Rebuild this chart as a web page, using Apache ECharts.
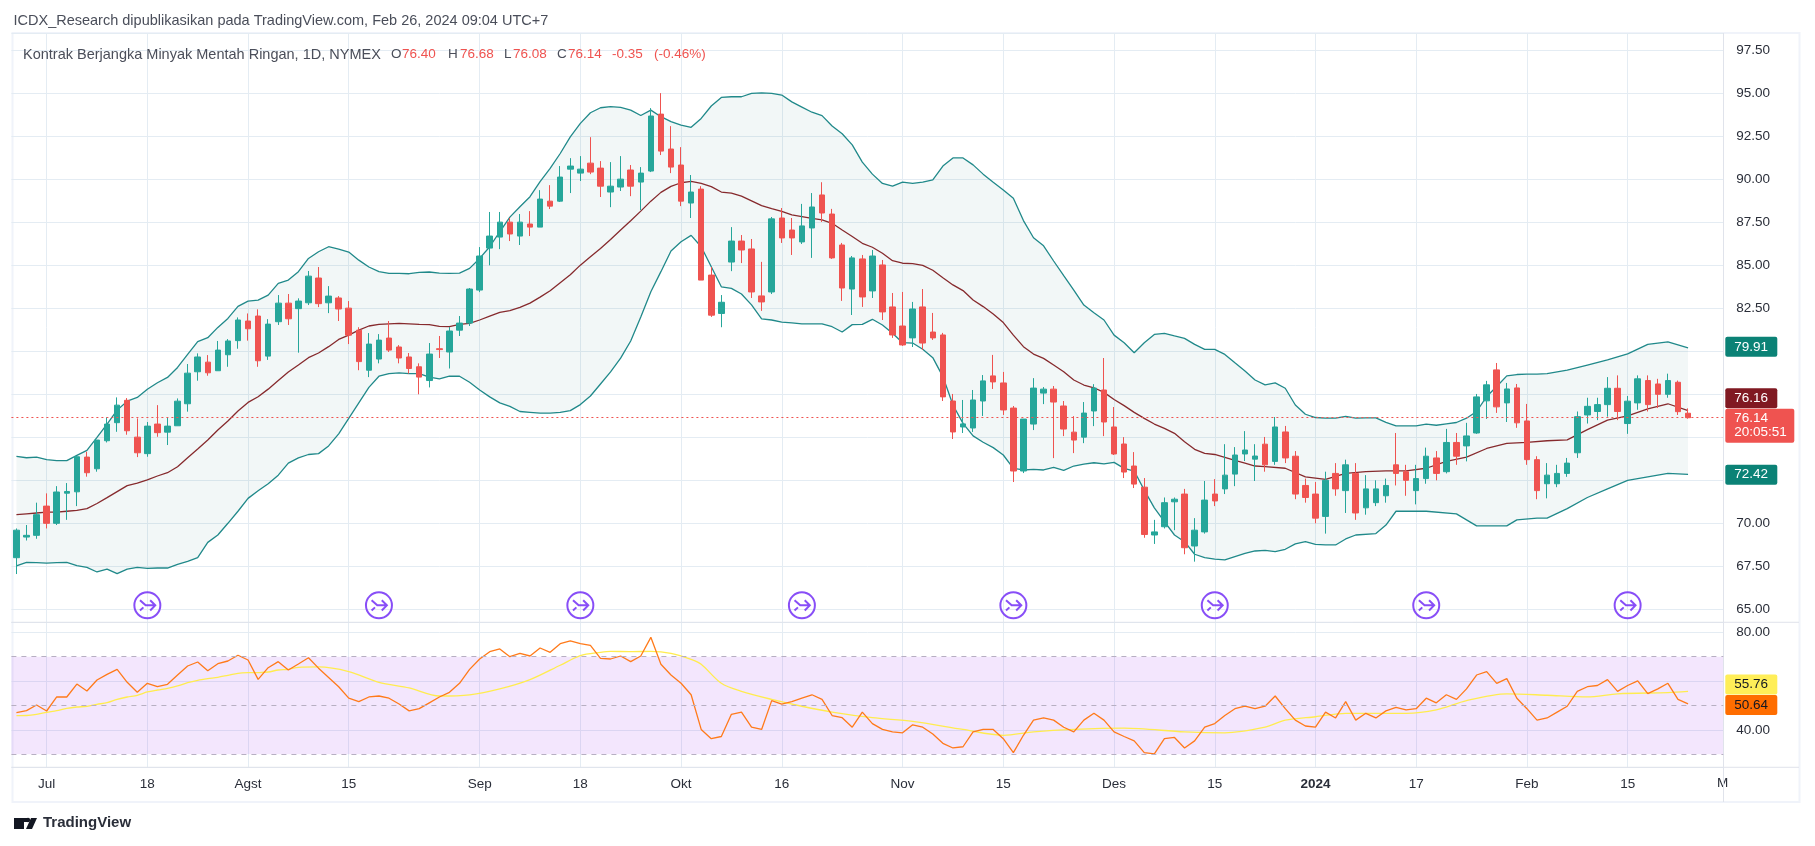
<!DOCTYPE html>
<html><head><meta charset="utf-8">
<style>html,body{margin:0;padding:0;background:#fff}#c{width:1815px;height:846px}</style>
<script src="https://cdn.jsdelivr.net/npm/echarts@6/dist/echarts.min.js"></script>
</head><body><div id="c"></div>
<script>
const dates=['Jun 28','Jun 29','Jun 30','Jul 3','Jul 5','Jul 6','Jul 7','Jul 10','Jul 11','Jul 12','Jul 13','Jul 14','Jul 17','Jul 18','Jul 19','Jul 20','Jul 21','Jul 24','Jul 25','Jul 26','Jul 27','Jul 28','Jul 31','Aug 1','Aug 2','Aug 3','Aug 4','Aug 7','Aug 8','Aug 9','Aug 10','Aug 11','Aug 14','Aug 15','Aug 16','Aug 17','Aug 18','Aug 21','Aug 22','Aug 23','Aug 24','Aug 25','Aug 28','Aug 29','Aug 30','Aug 31','Sep 1','Sep 5','Sep 6','Sep 7','Sep 8','Sep 11','Sep 12','Sep 13','Sep 14','Sep 15','Sep 18','Sep 19','Sep 20','Sep 21','Sep 22','Sep 25','Sep 26','Sep 27','Sep 28','Sep 29','Oct 2','Oct 3','Oct 4','Oct 5','Oct 6','Oct 9','Oct 10','Oct 11','Oct 12','Oct 13','Oct 16','Oct 17','Oct 18','Oct 19','Oct 20','Oct 23','Oct 24','Oct 25','Oct 26','Oct 27','Oct 30','Oct 31','Nov 1','Nov 2','Nov 3','Nov 6','Nov 7','Nov 8','Nov 9','Nov 10','Nov 13','Nov 14','Nov 15','Nov 16','Nov 17','Nov 20','Nov 21','Nov 22','Nov 24','Nov 27','Nov 28','Nov 29','Nov 30','Dec 1','Dec 4','Dec 5','Dec 6','Dec 7','Dec 8','Dec 11','Dec 12','Dec 13','Dec 14','Dec 15','Dec 18','Dec 19','Dec 20','Dec 21','Dec 22','Dec 26','Dec 27','Dec 28','Dec 29','Jan 2','Jan 3','Jan 4','Jan 5','Jan 8','Jan 9','Jan 10','Jan 11','Jan 12','Jan 16','Jan 17','Jan 18','Jan 19','Jan 22','Jan 23','Jan 24','Jan 25','Jan 26','Jan 29','Jan 30','Jan 31','Feb 1','Feb 2','Feb 5','Feb 6','Feb 7','Feb 8','Feb 9','Feb 12','Feb 13','Feb 14','Feb 15','Feb 16','Feb 20','Feb 21','Feb 22','Feb 23','Feb 26','Feb 27','Feb 28','Feb 29'];
const tickDates=['Jul 3','Jul 18','Aug 1','Aug 15','Sep 1','Sep 18','Oct 2','Oct 16','Nov 1','Nov 15','Dec 1','Dec 15','Jan 2','Jan 17','Feb 1','Feb 15'];
const tickLabels=['Jul','18','Agst','15','Sep','18','Okt','16','Nov','15','Des','15','2024','17','Feb','15'];
const opens=[68.0,69.2,69.3,71.0,70.0,71.75,71.83,73.85,73.17,74.8,75.85,77.15,75.01,74.05,75.77,75.3,75.67,76.95,78.81,79.37,78.87,79.8,80.62,81.76,82.05,79.72,81.72,82.8,82.48,82.82,84.26,82.82,83.1,82.51,81.23,78.9,79.55,80.77,80.25,79.67,79.1,78.3,80.15,79.96,81.23,81.64,83.56,86.0,86.64,87.51,86.7,87.4,87.22,88.73,88.73,90.59,90.36,90.94,90.65,89.26,89.55,90.54,89.84,90.48,93.79,91.76,90.83,88.62,89.43,84.43,82.2,85.19,86.41,85.95,83.22,83.45,87.75,87.05,86.36,87.17,89.09,87.98,86.18,83.62,85.37,83.51,85.02,82.58,81.47,80.78,82.58,81.12,80.95,77.11,75.6,75.54,77.11,78.57,78.16,76.7,73.04,75.77,77.57,77.8,76.82,75.3,75.01,76.53,77.75,75.6,74.61,73.33,72.1,69.32,69.8,71.25,71.7,68.68,69.5,71.7,72.0,72.86,74.03,73.73,74.6,73.6,75.31,73.9,72.2,71.7,70.4,72.9,71.9,72.9,70.9,71.2,71.6,73.4,73.0,71.9,72.6,73.8,73.0,74.7,74.5,75.25,77.12,78.92,77.0,77.87,75.95,73.7,72.3,72.3,72.9,74.1,76.3,76.5,76.9,77.85,75.8,77.0,78.3,78.1,77.5,78.2,76.40];
const closes=[69.6,69.3,70.5,70.0,71.82,71.85,73.87,72.94,74.84,75.77,76.87,75.38,74.1,75.65,75.27,75.65,77.1,78.73,79.67,78.75,80.07,80.6,81.82,81.31,79.45,81.58,82.8,81.89,82.92,84.37,82.77,83.21,82.46,80.94,79.4,80.42,80.65,80.07,79.61,79.0,78.5,79.84,80.1,81.18,81.64,83.62,85.54,86.7,87.51,86.82,87.51,87.22,88.85,88.44,90.13,90.77,90.59,90.42,89.6,89.6,90.01,89.6,90.36,93.68,91.64,90.71,88.73,89.26,84.14,82.1,82.85,86.41,85.89,83.45,82.87,87.7,86.59,86.59,87.29,88.39,88.04,85.43,83.68,85.43,83.16,85.54,82.29,80.95,80.37,82.46,80.48,80.78,77.35,75.31,75.78,77.17,78.28,78.22,76.59,73.04,76.06,77.86,77.8,77.05,75.48,74.84,76.41,77.86,75.89,74.03,72.98,72.28,69.35,69.5,71.2,71.4,68.58,69.6,71.35,71.3,72.8,73.97,74.26,73.91,73.4,75.6,73.8,71.7,71.5,70.3,72.5,72.0,73.4,70.6,72.0,72.0,72.2,72.9,72.5,72.6,73.9,72.9,74.7,73.9,75.08,77.35,78.05,76.77,77.81,75.84,73.7,71.9,72.8,72.9,73.5,76.2,76.8,76.9,77.85,76.5,77.1,78.4,76.9,77.5,78.3,76.49,76.14];
const lows=[67.05,69.0,69.1,69.7,69.9,70.2,71.0,72.71,73.0,74.7,75.32,75.15,73.85,73.87,75.03,74.55,75.67,76.49,78.29,78.58,78.87,79.1,80.15,80.62,79.1,79.5,81.53,81.53,79.92,82.69,82.57,82.22,81.76,80.42,78.9,78.5,79.3,79.96,79.3,78.7,77.5,77.9,79.61,79.0,80.89,81.47,83.44,85.0,85.94,86.41,86.18,86.7,87.22,88.27,88.68,89.2,89.9,90.3,88.97,88.38,89.32,89.02,88.21,90.42,91.41,90.36,88.44,87.75,84.14,82.0,81.4,84.66,85.13,83.1,82.35,83.33,86.3,85.6,86.24,85.43,87.52,85.37,82.93,82.11,82.58,83.1,81.82,80.78,80.31,80.25,80.08,80.66,77.11,74.9,75.25,75.31,76.24,77.81,76.3,72.4,72.92,75.42,76.93,73.79,75.07,74.08,74.66,75.65,75.07,73.97,72.63,72.05,69.16,68.8,69.7,69.6,68.2,67.77,69.4,71.0,71.7,72.16,73.62,72.46,73.0,73.4,73.5,71.4,71.2,70.0,69.4,71.6,70.6,70.2,70.5,71.0,71.2,72.2,71.6,71.1,72.3,72.5,72.9,73.4,73.6,75.2,76.07,76.42,75.89,75.55,73.4,71.4,71.45,72.1,72.7,73.8,75.8,76.0,76.2,76.0,75.2,76.6,76.5,76.7,77.3,76.3,76.08];
const highs=[69.7,69.9,71.2,71.74,72.16,72.34,73.9,74.16,74.84,76.16,77.32,77.28,76.1,75.89,76.87,76.16,77.26,79.26,79.88,79.78,80.6,80.71,81.97,82.2,82.44,81.87,83.27,83.33,83.08,84.67,84.9,83.79,83.21,82.92,81.4,81.06,81.0,81.76,80.36,79.9,79.3,80.48,80.89,81.41,82.05,83.68,86.06,88.1,88.1,87.75,87.98,88.15,89.37,89.66,90.77,91.23,91.35,92.45,91.06,91.0,91.35,90.83,90.71,94.14,95.01,93.09,91.87,90.25,89.6,84.9,83.27,87.22,86.76,86.53,85.2,87.81,88.33,87.75,88.57,89.2,89.83,88.28,86.3,85.54,85.6,85.89,85.31,83.39,83.45,82.87,83.62,82.23,81.07,77.52,77.17,77.75,78.62,79.79,78.8,76.82,76.06,78.44,77.92,77.98,77.11,76.23,77.05,78.09,79.61,76.76,75.01,74.14,72.63,70.2,71.5,71.5,72.0,70.3,72.46,72.57,74.6,74.43,75.36,74.6,75.02,76.18,75.66,74.2,72.6,72.4,73.0,73.5,73.7,73.5,72.8,72.5,72.6,75.25,73.4,73.4,74.4,74.2,75.49,75.25,75.84,77.52,78.28,79.32,78.16,78.1,76.94,73.9,73.5,73.4,73.8,76.5,77.3,77.3,78.5,78.6,77.4,78.6,78.6,78.4,78.7,78.3,76.68];
const bbUpper=[73.89,73.81,73.85,73.7,73.64,73.64,73.95,74.24,74.99,75.77,76.58,77.1,77.32,77.79,78.17,78.48,79.06,79.82,80.56,80.79,81.39,81.91,82.61,82.92,82.98,83.27,83.95,84.14,84.63,85.4,85.79,86.08,85.94,85.77,85.3,84.9,84.63,84.53,84.53,84.51,84.59,84.61,84.55,84.53,84.55,84.82,85.4,86.08,86.95,87.8,88.4,88.99,89.86,90.63,91.5,92.47,93.25,93.87,94.16,94.22,94.18,94.02,93.71,94.02,93.64,93.35,93.15,93.02,93.54,94.26,94.76,94.8,94.8,95.0,95.03,95.0,94.9,94.5,94.2,93.9,93.7,93.1,92.65,92,91,90.3,89.76,89.6,89.83,89.76,89.83,89.96,90.77,91.24,91.24,90.84,90.3,89.83,89.38,88.9,87.6,86.6,86.13,85.25,84.4,83.56,82.69,82.24,81.82,80.94,80.5,79.92,80.5,80.98,81.04,80.89,80.75,80.4,80.11,80.11,79.82,79.33,78.85,78.33,78.05,78.16,77.85,76.88,76.34,76.15,76.11,76.11,76.22,76.11,76.13,76.13,75.87,75.66,75.66,75.66,75.76,75.7,75.78,75.86,76.11,76.5,77.37,77.95,78.57,78.65,78.67,78.67,78.7,null,78.9,null,79.2,null,79.5,null,79.85,null,80.4,null,80.55,null,80.2];
const bbBasis=[70.5,70.55,70.6,70.65,70.65,70.7,70.75,70.85,71.15,71.49,71.84,72.19,72.34,72.53,72.75,72.94,73.29,73.81,74.32,74.84,75.42,75.95,76.53,77.03,77.36,77.8,78.3,78.8,79.2,79.63,79.9,80.27,80.69,80.94,81.23,81.47,81.56,81.6,81.62,81.6,81.56,81.55,81.45,81.43,81.56,81.62,81.82,82.05,82.26,82.36,82.55,82.8,83.15,83.52,83.99,84.45,85.01,85.5,85.98,86.5,87.05,87.59,88.15,88.73,89.24,89.59,89.8,89.88,89.76,89.57,89.26,89.2,89.02,88.75,88.47,88.29,88.14,87.93,87.83,87.73,87.64,87.44,87.05,86.67,86.28,86.05,85.7,85.27,85.12,85.1,85,84.71,84.28,83.86,83.53,82.98,82.6,82.17,81.67,80.94,80.27,79.84,79.59,79.2,78.81,78.33,78.04,77.88,77.61,77.2,76.84,76.45,76.1,75.77,75.52,75.23,74.74,74.3,74.06,74.0,73.83,73.66,73.5,73.33,73.3,null,73.2,null,72.7,null,72.55,null,72.9,null,73.0,null,73.05,null,73.05,null,73.2,null,73.6,null,73.85,null,74.35,null,74.65,null,74.7,null,74.8,null,74.85,null,75.45,null,76.0,null,76.25,null,76.65,null,76.95,null,76.55];
const bbLower=[67.52,67.73,67.71,67.69,67.71,67.73,67.54,67.44,67.17,67.34,67.07,67.34,67.44,67.38,67.4,67.4,67.61,67.79,68.0,68.89,69.32,70.0,70.7,71.45,71.89,72.3,72.8,73.5,73.8,74,74.05,74.5,75.2,76.1,77.0,77.9,78.55,78.7,78.75,78.7,78.7,78.5,78.4,78.55,78.55,78.2,77.75,77.35,77.0,76.8,76.5,76.45,76.4,76.4,76.45,76.55,76.9,77.4,78.1,78.8,79.6,80.6,82.0,83.46,84.63,85.83,86.37,86.74,86.08,84.92,83.75,83.66,83.33,82.7,81.88,81.82,81.7,81.65,81.59,81.59,81.59,81.43,81.12,81.55,81.57,81.86,81.53,81.05,80.5,80.48,80.12,79.63,78.53,76.88,75.81,75.08,74.71,74.4,73.97,73.19,73.1,73.13,73.1,73.25,73.08,73.33,73.44,73.52,73.46,73.54,73.19,73.04,71.93,70.9,70.1,69.32,68.93,68.2,68.0,67.92,67.87,68.06,68.25,68.39,68.43,68.35,68.49,68.8,68.93,68.78,68.74,68.74,69.09,69.32,null,69.4,69.9,70.7,null,null,70.7,null,null,70.55,null,69.85,null,null,69.85,70.2,null,70.3,70.3,null,70.85,null,71.5,null,72.0,null,72.5,null,72.7,null,72.9,null,72.85];
const rsi=[47.07,47.89,50.2,47.75,53.49,53.49,58.8,55.95,60.46,62.78,64.83,59.5,55.4,59.09,57.72,58.68,62.5,66.19,67.83,64.28,67.15,68.24,70.6,68.65,60.73,65.5,67.97,64.55,67.0,69.6,65.3,61.5,57.7,53,51.6,53.5,53.9,53,50.6,47.8,48.7,51.1,53.5,55.4,59.1,64.8,69.06,72.07,73.2,70,71.38,70.29,73.57,71.79,75.35,76.44,75.35,74.66,69.33,69.06,70.29,67.97,70.29,77.94,66.9,62.5,59.1,54.4,40.2,36.4,37.3,46.4,47.3,41.1,40.2,52,50.6,51.6,53,54.4,52.5,45.9,45,41.1,47.3,42.6,40.2,39.2,38.8,42.1,41.1,38.3,34.5,32.6,33.1,39.2,40.2,40.2,36.4,30.7,37.8,44,44.9,44,41.1,39.2,44,46.8,44,39.2,37.3,35.5,30.7,30.2,36.4,36.9,32.6,35.5,41.1,42.6,45.9,48.7,49.7,48.7,49.7,53.9,48.7,44,41.6,41.1,47.3,44.9,51.6,44,46.8,44.9,47.8,49.2,48.2,48.7,53,51.1,54.4,52.5,56.8,62.5,63.9,59.1,61,53,48.7,44,44.9,47.3,49.7,55.8,57.7,58.2,60.6,55.8,58.2,60.1,54.9,56.8,59.1,52.5,50.64];
const rsiMa=[45.84,45.9,46.38,47.2,47.89,48.84,49.39,49.66,50.48,51.17,52.53,53.49,54.17,55.54,56.36,57.04,58,59.36,60.32,61,61.55,62.37,63.19,63.46,63.5,63.73,64.55,64.83,65.65,null,65.8,null,null,63.9,null,null,59.5,null,null,57.2,null,null,53.9,null,null,54.4,null,null,56.8,null,null,60.6,null,null,66.5,null,70.43,null,71.79,72.2,null,72.07,null,72.2,null,71.38,null,68.92,66.9,null,59.1,null,55.8,null,null,52.5,null,null,49.7,null,null,47.3,null,null,null,45,null,null,null,43.5,null,null,null,null,40.2,null,null,null,37.8,null,null,39.2,null,null,null,40.2,null,null,null,null,40.7,null,null,null,null,null,39.2,null,null,null,38.8,null,null,null,41.1,null,44,null,null,45.4,null,null,46.8,null,null,null,null,null,46.8,null,null,48.2,null,null,52,null,null,null,54.8,null,null,null,54.2,null,null,null,53.5,null,null,54.8,null,null,null,null,55.3,null,55.76];
const rollIndex=[13,36,56,78,99,119,140,160];
const rollLevel=65.23;
const priceTicks=[65,67.5,70,72.5,75,77.5,80,82.5,85,87.5,90,92.5,95,97.5];
const rsiTicks=[80,40];
const headerText='ICDX_Research dipublikasikan pada TradingView.com, Feb 26, 2024 09:04 UTC+7';
const legendParts=[['Kontrak Berjangka Minyak Mentah Ringan, 1D, NYMEX',23,'#4a4e5a'],['O',391,'#4a4e5a'],['76.40',402,'#ef5350'],['H',448,'#4a4e5a'],['76.68',460,'#ef5350'],['L',504,'#4a4e5a'],['76.08',513,'#ef5350'],['C',557,'#4a4e5a'],['76.14',568,'#ef5350'],['-0.35',612,'#ef5350'],['(-0.46%)',654,'#ef5350']];

const FONT='"Liberation Sans", Arial, sans-serif';
const GRID='#e4ecf3', TEAL='#26a69a', RED='#ef5350', BAND='#20898a', BASIS='#862a2d', CLEAR='rgba(0,0,0,0)';
const tickSet=new Map(tickDates.map((d,i)=>[d,tickLabels[i]]));
const ohlc=opens.map((o,i)=>[o,closes[i],lows[i],highs[i]]);
const pad=a=>a.map((v,i)=>[i,v]);
function endLabel(v,text,bg,fg,offset,width){
  return {yAxis:v,symbol:'none',label:{show:true,position:'end',formatter:text,backgroundColor:bg,color:fg,
    fontFamily:FONT,fontSize:13.5,padding:[3,3,3,9],borderRadius:2,distance:2,align:'left',offset:[0,offset],width:width||40,lineHeight:14}};
}
const L=11.4,W=170*10.07;
const chart=echarts.init(document.getElementById('c'),null,{renderer:'canvas'});
const xBase={type:'category',data:dates,boundaryGap:true,axisLine:{show:false},axisTick:{show:false},
  splitLine:{show:true,alignWithLabel:true,interval:(i,v)=>tickSet.has(v),lineStyle:{color:GRID,width:1}}};
chart.setOption({
  animation:false,
  backgroundColor:'#fff',
  grid:[{left:L,width:W,top:33,height:589.3},{left:L,width:W,top:622.3,height:144.7}],
  xAxis:[
    Object.assign({},xBase,{gridIndex:0,axisLabel:{show:false}}),
    Object.assign({},xBase,{gridIndex:1,axisLabel:{show:true,interval:(i,v)=>tickSet.has(v),margin:10,fontFamily:FONT,fontSize:13.5,color:'#2a2e39',
      formatter:v=>{const t=tickSet.get(v);return t==='2024'?'{b|2024}':t;},rich:{b:{fontWeight:'bold',fontFamily:FONT,fontSize:13.5,color:'#2a2e39'}}}})
  ],
  yAxis:[
    {type:'value',gridIndex:0,position:'right',min:64.244,max:98.506,minInterval:2.5,maxInterval:2.5,axisLine:{show:false},axisTick:{show:false},
     splitLine:{show:true,lineStyle:{color:GRID}},
     axisLabel:{margin:13,fontFamily:FONT,fontSize:13.5,color:'#2a2e39',formatter:v=>priceTicks.includes(v)?v.toFixed(2):''}},
    {type:'value',gridIndex:1,position:'right',min:24.8,max:84.1,minInterval:20,maxInterval:20,axisLine:{show:false},axisTick:{show:false},
     splitLine:{show:true,lineStyle:{color:GRID}},
     axisLabel:{margin:13,fontFamily:FONT,fontSize:13.5,color:'#2a2e39',formatter:v=>rsiTicks.includes(v)?v.toFixed(2):''}}
  ],
  series:[
    {type:'custom',name:'band',xAxisIndex:0,yAxisIndex:0,data:[0],z:1,silent:true,clip:false,
     renderItem:(p,api)=>{
       const up=pad(bbUpper).filter(d=>d[1]!==null).map(d=>api.coord(d));
       const lo=pad(bbLower).filter(d=>d[1]!==null).map(d=>api.coord(d)).reverse();
       return {type:'polygon',shape:{points:up.concat(lo)},style:{fill:'rgba(0,105,92,0.05)'}};
     }},
    {type:'line',name:'Upper',data:pad(bbUpper),connectNulls:true,showSymbol:false,symbol:'none',lineStyle:{color:BAND,width:1.3},z:2,
     markLine:{silent:true,symbol:'none',animation:false,z:6,lineStyle:{color:CLEAR},data:[endLabel(79.91,'79.91','#0b8276','#fff',-6)]}},
    {type:'line',name:'Lower',data:pad(bbLower),connectNulls:true,showSymbol:false,symbol:'none',lineStyle:{color:BAND,width:1.3},z:2,
     markLine:{silent:true,symbol:'none',animation:false,z:6,lineStyle:{color:CLEAR},data:[endLabel(72.42,'72.42','#0b8276','#fff',-7)]}},
    {type:'line',name:'Basis',data:pad(bbBasis),connectNulls:true,showSymbol:false,symbol:'none',lineStyle:{color:BASIS,width:1.3},z:2,
     markLine:{silent:true,symbol:'none',animation:false,z:6,lineStyle:{color:CLEAR},data:[endLabel(76.16,'76.16','#801922','#fff',-19)]}},
    {type:'candlestick',name:'CL',data:ohlc,barWidth:6,z:3,
     itemStyle:{color:TEAL,color0:RED,borderColor:TEAL,borderColor0:RED,borderWidth:1},
     markLine:{silent:true,symbol:'none',animation:false,z:6,lineStyle:{color:RED,type:[2,3],width:1},
       data:[endLabel(76.14,'76.14\n20:05:51',RED,'#fff',8,57)]}},
    {type:'scatter',name:'roll',data:rollIndex.map(i=>[i,rollLevel]),symbolSize:26,z:4,silent:true,
     symbol:'path://M12 0.5A11.5 11.5 0 1 0 12.01 0.5ZM5.5 7.5L10.5 12L19 12M14.5 7.5L19 12L14.5 16.5M8.5 13.8L5.5 16.5',
     itemStyle:{color:CLEAR,borderColor:'#6a22f5',borderWidth:2}},
    {type:'line',name:'RSI',xAxisIndex:1,yAxisIndex:1,data:pad(rsi),showSymbol:false,symbol:'none',lineStyle:{color:'#ff7a1a',width:1.3},z:3,
     markArea:{silent:true,itemStyle:{color:'rgba(153,51,240,0.12)'},data:[[{yAxis:70},{yAxis:30}]]},
     markLine:{silent:true,symbol:'none',animation:false,lineStyle:{color:'#b7afc2',type:[5,5],width:1},
       label:{show:false},data:[{yAxis:70},{yAxis:50},{yAxis:30}]}},
    {type:'line',name:'RSI MA',xAxisIndex:1,yAxisIndex:1,data:pad(rsiMa),connectNulls:true,showSymbol:false,symbol:'none',smooth:0.3,lineStyle:{color:'#ffec4f',width:1.3},z:2,
     markLine:{silent:true,symbol:'none',animation:false,z:6,lineStyle:{color:CLEAR},
       data:[endLabel(55.76,'55.76','#ffee58','#131722',-7),endLabel(50.64,'50.64','#ff6d00','#131722',1)]}}
  ],
  graphic:[
    {type:'text',left:13.5,top:13,z:10,style:{text:headerText,fontFamily:FONT,fontSize:14.5,fill:'#4a4e5a'}},
    ...legendParts.map(p=>({type:'text',left:p[1],top:47,z:10,style:{text:p[0],fontFamily:FONT,fontSize:p[1]<100?14.5:13.5,fill:p[2]}})),
    {type:'rect',z:-1,shape:{x:12.5,y:33,width:1787,height:769},style:{fill:'none',stroke:'#f0f3fa',lineWidth:2}},
    {type:'line',z:5,shape:{x1:L,y1:622.3,x2:1799,y2:622.3},style:{stroke:'#e0e3eb',lineWidth:1}},
    {type:'line',z:5,shape:{x1:L,y1:767.3,x2:1799,y2:767.3},style:{stroke:'#e0e3eb',lineWidth:1}},
    {type:'line',z:5,shape:{x1:1723.5,y1:33,x2:1723.5,y2:802},style:{stroke:'#e0e3eb',lineWidth:1}},
    {type:'text',left:1717,top:776,z:1,style:{text:'M',fontFamily:FONT,fontSize:13.5,fill:'#2a2e39'}},
    {type:'rect',z:10,shape:{x:14,y:818,width:10,height:11},style:{fill:'#131722'}},
    {type:'rect',z:10,shape:{x:14,y:818,width:15,height:4},style:{fill:'#131722'}},
    {type:'circle',z:10,shape:{cx:28,cy:820,r:2.2},style:{fill:'#131722'}},
    {type:'polygon',z:10,shape:{points:[[31,818],[37,818],[32,829],[26,829]]},style:{fill:'#131722'}},
    {type:'text',left:43,top:815,z:10,style:{text:'TradingView',fontFamily:FONT,fontSize:15,fontWeight:'bold',fill:'#2a2e39'}}
  ]
});
</script></body></html>
